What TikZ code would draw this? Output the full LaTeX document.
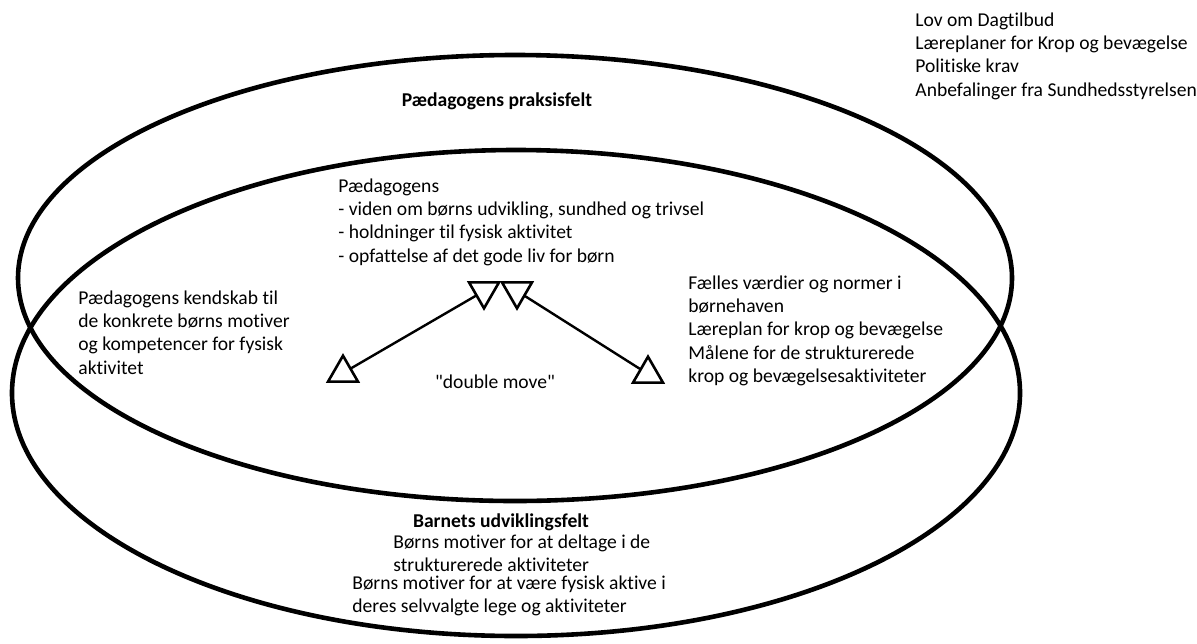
\documentclass[tikz,border=0pt]{standalone}
\usepackage{fontspec}
\setmainfont{Carlito}[Ligatures = {NoCommon}]
\usetikzlibrary{shapes.geometric}

\tikzset{
  field/.style = {line width = 2.3pt},
  txt/.style = {inner sep = 0, align = left, anchor = north west, font = \fontsize{9.8}{11.7}\selectfont},
  title/.style = {inner sep = 0, font = \fontsize{9.8}{11.7}\selectfont\bfseries},
  tri/.style = {draw, regular polygon, regular polygon sides = 3, minimum size = 17.3pt, inner sep = 0, outer sep = 0, line width = 1.3pt},
}

\begin{document}
\begin{tikzpicture}[x = 0.5pt, y = -0.5pt]
\useasboundingbox (0,0) rectangle (1197,643);
\draw[field] (515,278) ellipse [x radius = 497, y radius = 223];
\draw[field] (516,393) ellipse [x radius = 504, y radius = 243];

\node[txt] (1) at (915,12) {Lov om Dagtilbud\\Læreplaner for Krop og bevægelse\\Politiske krav\\Anbefalinger fra Sundhedsstyrelsen};
\node[title] (2) at (497,101) {Pædagogens praksisfelt};
\node[txt] (3) at (338,178) {Pædagogens\\- viden om børns udvikling, sundhed og trivsel\\- holdninger til fysisk aktivitet\\- opfattelse af det gode liv for børn};
\node[txt] (4) at (78,290) {Pædagogens kendskab til\\de konkrete børns motiver\\og kompetencer for fysisk\\aktivitet};
\node[txt] (5) at (688,275) {Fælles værdier og normer i\\børnehaven\\Læreplan for krop og bevægelse\\Målene for de strukturerede\\krop og bevægelsesaktiviteter};
\node[inner sep = 0, font = \fontsize{9.8}{11.7}\selectfont] (6) at (495,382) {\textquotedbl double move\textquotedbl};
\node[title] (7) at (501,522) {Barnets udviklingsfelt};
\node[txt] (8) at (393,534) {Børns motiver for at deltage i de\\strukturerede aktiviteter};
\node[txt] (9) at (352,575) {Børns motiver for at være fysisk aktive i\\deres selvvalgte lege og aktiviteter};

\node[tri, shape border rotate = 180] (10) at (484,291) {};
\node[tri, shape border rotate = 180] (11) at (517,291) {};
\node[tri] (12) at (343,373) {};
\node[tri] (13) at (648,374) {};
\draw[line width = 1.2pt] (10) -- (12);
\draw[line width = 1.2pt] (11) -- (13);
\end{tikzpicture}
\end{document}
